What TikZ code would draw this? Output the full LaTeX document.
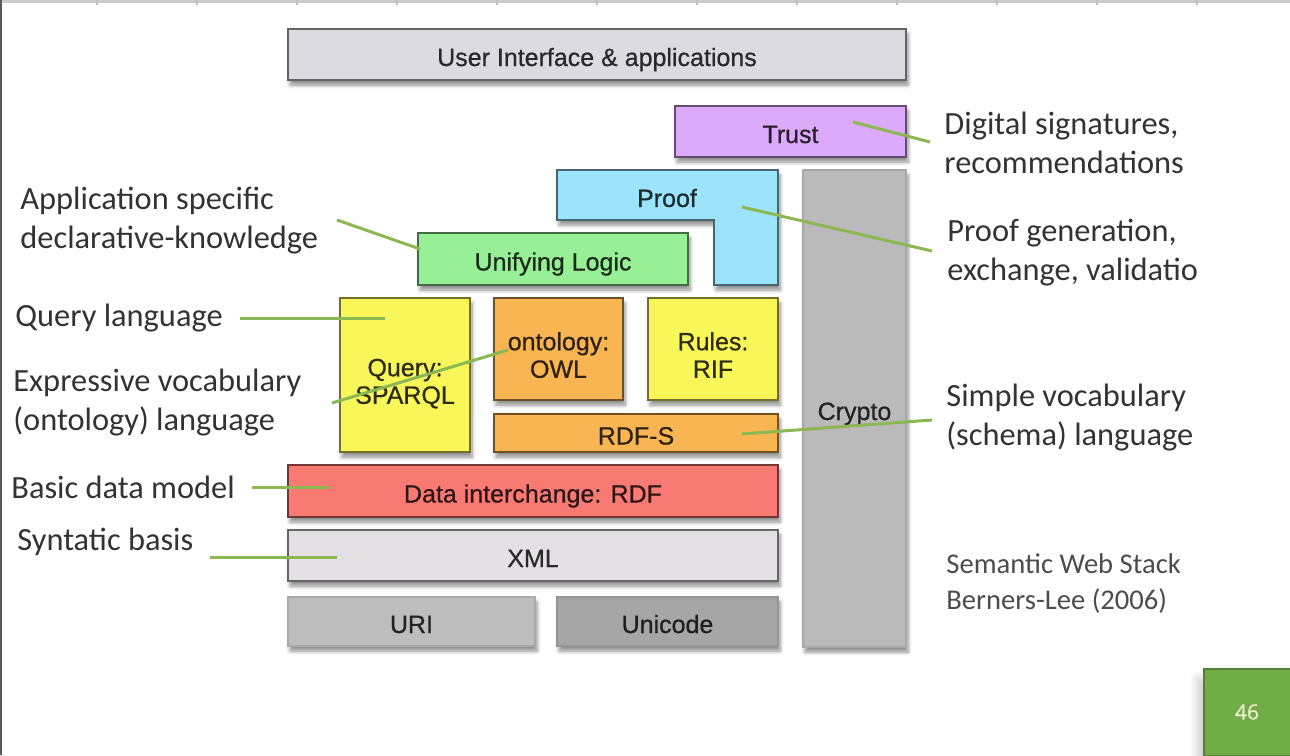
\documentclass[tikz,border=0pt]{standalone}
\usepackage{fontspec}
\usepackage{tikz}
\usetikzlibrary{shadows.blur}
\setmainfont{Carlito}
\newfontfamily\stackfont[FakeBold=0.6]{Liberation Sans}
\newfontfamily\pagefont[FakeBold=0.4]{Open Sans}
\newcommand\layerfont{\stackfont\fontsize{12.5}{13.75}\selectfont}

\definecolor{uigray}{HTML}{DCDBE1}
\definecolor{trustpurple}{HTML}{DCAAFA}
\definecolor{proofcyan}{HTML}{9BE4FC}
\definecolor{logicgreen}{HTML}{98F096}
\definecolor{ruleyellow}{HTML}{F9F65A}
\definecolor{owlorange}{HTML}{F9B552}
\definecolor{rdfred}{HTML}{F97A73}
\definecolor{xmlgray}{HTML}{E3E1E3}
\definecolor{urigray}{HTML}{BDBDBD}
\definecolor{unigray}{HTML}{A6A6A6}
\definecolor{cryptogray}{HTML}{BABABA}
\definecolor{linkgreen}{HTML}{8CB853}
\definecolor{pagegreen}{HTML}{70AD47}
\definecolor{pageedge}{HTML}{548235}
\definecolor{pagetext}{HTML}{F2EFD2}

\begin{document}
\begin{tikzpicture}[x=0.5pt,y=-0.5pt,
  layer/.style={fill=#1, draw=#1!45!black, text=#1!18!black, line width=1.1pt,
    inner sep=0pt, align=center, font=\layerfont, text height=13pt, text depth=1.5pt,
    blur shadow={shadow xshift=1pt, shadow yshift=-2.5pt, shadow blur steps=6, shadow opacity=45}},
  twoline/.style={text height=30.25pt, text depth=1.5pt},
  flat/.style={layer=#1, draw=#1!90!black, line width=0.6pt},
  note/.style={anchor=west, inner sep=0pt, align=left, text=black!80,
    font=\fontsize{16.2}{19.5}\selectfont},
  link/.style={linkgreen, line width=1.5pt}]
\useasboundingbox (0,0) rectangle (1290,755);

% slide frame
\draw[black!20, line width=1.5pt] (0,1) -- (1290,1);
\foreach \x in {97,197,...,1197}
  \draw[black!25, line width=0.6pt] (\x,0) -- (\x,5);
\draw[black!65, line width=1pt] (1,0) -- (1,755);

% the stack
\node[layer=uigray, minimum width=309pt, minimum height=25.5pt] (ui) at (597,54.5) {User Interface \& applications};
\node[layer=trustpurple, minimum width=115.5pt, minimum height=25.5pt] (trust) at (790.5,131.5) {Trust};
\node[flat=cryptogray, minimum width=51.5pt, minimum height=238.5pt] (crypto) at (854.5,408.5) {Crypto};
\path[layer=proofcyan] (557,170) -- (778,170) -- (778,285) -- (714,285) -- (714,220) -- (557,220) -- cycle;
\node[text=proofcyan!18!black, font=\layerfont] (proof) at (667,198) {Proof};
\node[layer=logicgreen, minimum width=135pt, minimum height=26pt] (logic) at (553,259) {Unifying Logic};
\node[layer=ruleyellow, twoline, minimum width=65pt, minimum height=77pt] (sparql) at (405,375) {Query:\\SPARQL};
\node[layer=owlorange, twoline, minimum width=64.5pt, minimum height=51pt] (owl) at (558.5,349) {ontology:\\OWL};
\node[layer=ruleyellow, twoline, minimum width=65pt, minimum height=51pt] (rif) at (713,349) {Rules:\\RIF};
\node[layer=owlorange, minimum width=142pt, minimum height=19pt] (rdfs) at (636,433) {RDF-S};
\node[layer=rdfred, minimum width=245pt, minimum height=26pt] (rdf) at (533,491) {Data interchange: RDF};
\node[layer=xmlgray, minimum width=245pt, minimum height=25.5pt] (xml) at (533,555.5) {XML};
\node[flat=urigray, minimum width=123.5pt, minimum height=24.5pt] (uri) at (411.5,621.5) {URI};
\node[flat=unigray, minimum width=110.5pt, minimum height=24.5pt] (unicode) at (667.5,621.5) {Unicode};

% notes
\node[note] (app) at (20,221) {Application specific\\declarative-knowledge};
\node[note] (ql) at (15,318) {Query language};
\node[note] (expr) at (13,403) {Expressive vocabulary\\(ontology) language};
\node[note] (bdm) at (11,487) {Basic data model};
\node[note] (syn) at (17,542) {Syntatic basis};
\node[note] (sig) at (944,143) {Digital signatures,\\recommendations};
\node[note] (pgen) at (947,253) {Proof generation,\\exchange, validatio};
\node[note] (svoc) at (946,418) {Simple vocabulary\\(schema) language};
\node[note, text=black!70, font=\fontsize{14.3}{18}\selectfont] (src) at (946,584) {Semantic Web Stack\\Berners-Lee (2006)};

% green pointers
\coordinate (app-a) at (337,220);  \coordinate (app-b) at (420,249);
\coordinate (ql-a) at (240,318);   \coordinate (ql-b) at (385,318);
\coordinate (expr-a) at (332,403); \coordinate (expr-b) at (508,350);
\coordinate (bdm-a) at (252,487);  \coordinate (bdm-b) at (330,487);
\coordinate (syn-a) at (210,557);  \coordinate (syn-b) at (337,557);
\coordinate (sig-a) at (853,122);  \coordinate (sig-b) at (930,142);
\coordinate (pgen-a) at (742,207); \coordinate (pgen-b) at (932,251);
\coordinate (svoc-a) at (742,434); \coordinate (svoc-b) at (932,420);
\foreach \n in {app,ql,expr,bdm,syn,sig,pgen,svoc}
  \draw[link] (\n-a) -- (\n-b);

% page number
\node[fill=pagegreen, draw=pageedge, line width=1pt, minimum size=43.5pt, inner sep=0pt,
  text=pagetext, font=\pagefont\fontsize{10.5}{12}\selectfont,
  blur shadow={shadow xshift=-3pt, shadow yshift=-5pt, shadow blur radius=4pt, shadow opacity=20}] (page) at (1247,712) {46};
\end{tikzpicture}
\end{document}
